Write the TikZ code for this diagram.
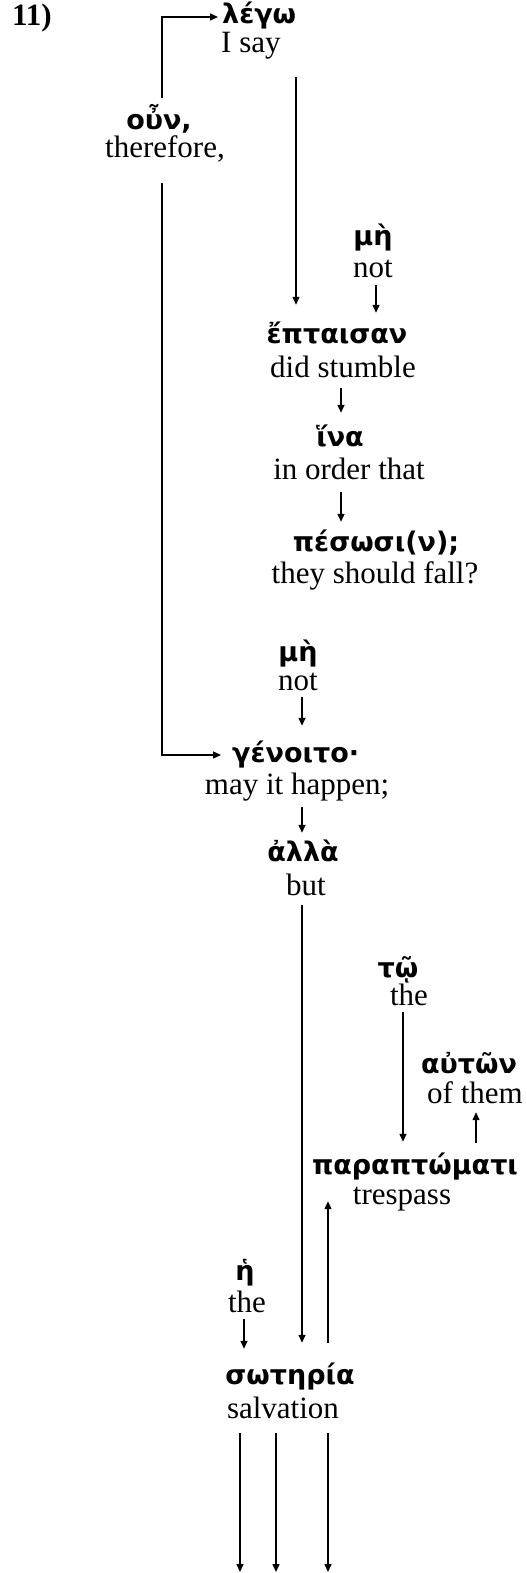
\documentclass[tikz,border=0pt]{standalone}
\usepackage{fontspec}
\setmainfont{Liberation Serif}
\newfontfamily\grk[Script=Greek]{DejaVu Sans}
\usetikzlibrary{arrows.meta}
\begin{document}
\begin{tikzpicture}[x=1pt,y=-1pt,
  gk/.style={inner sep=0pt, anchor=base, font=\grk\bfseries\fontsize{27}{31}\selectfont, text height=20pt, text depth=6pt},
  en/.style={inner sep=0pt, anchor=base, font=\fontsize{31}{36}\selectfont, text height=21pt, text depth=7pt},
  arr/.style={line width=1.4pt, -{Triangle[length=8pt,width=7pt]}}]
\useasboundingbox (0,0) rectangle (527,1573);
% column coordinates
\coordinate (xa) at (162,0);
\coordinate (xb) at (296,0);
\coordinate (xc) at (376,0);
\coordinate (xd) at (341,0);
\coordinate (xe) at (302,0);
\coordinate (xf) at (403,0);
\coordinate (xg) at (476,0);
\coordinate (xh) at (328,0);
\coordinate (xi) at (244,0);
\coordinate (b1) at (240,1572);
\coordinate (b2) at (276,1572);
\coordinate (b3) at (328,1572);
% nodes
\node[inner sep=0pt, anchor=base west, font=\bfseries\fontsize{31}{36}\selectfont] (num) at (12,26) {11)};
\node[gk, anchor=base west] (legw) at (222,24) {λέγω};
\node[en, anchor=base west] (isay) at (221,53) {I say};
\node[gk] (oun) at (159,130) {οὖν,};
\node[en] (therefore) at (165,158) {therefore,};
\node[gk] (mh1) at (373,245) {μὴ};
\node[en] (not1) at (373,277) {not};
\node[gk] (epta) at (337,343) {ἔπταισαν};
\node[en] (stumble) at (343,377) {did stumble};
\node[gk] (ina) at (340,446) {ἵνα};
\node[en] (order) at (349,479) {in order that};
\node[gk] (pes) at (376,551) {πέσωσι(ν);};
\node[en] (fall) at (375,583) {they should fall?};
\node[gk] (mh2) at (298,661) {μὴ};
\node[en] (not2) at (298,690) {not};
\node[gk, anchor=base west] (gen) at (232,762) {γένοιτο·};
\node[en] (happen) at (297,794) {may it happen;};
\node[gk] (alla) at (303,861) {ἀλλὰ};
\node[en] (but) at (306,895) {but};
\node[gk] (tw) at (398,977) {τῷ};
\node[en] (the1) at (409,1005) {the};
\node[gk] (autwn) at (469,1073) {αὐτῶν};
\node[en] (ofthem) at (475,1103) {of them};
\node[gk] (para) at (415,1174) {παραπτώματι};
\node[en] (trespass) at (402,1204) {trespass};
\node[gk] (hh) at (245,1280) {ἡ};
\node[en] (the2) at (247,1312) {the};
\node[gk] (swt) at (290,1384) {σωτηρία};
\node[en] (salv) at (283,1418) {salvation};
% connectors
\draw[arr, shorten <=12pt, shorten >=4pt] (oun.north -| xa) |- (legw.west);
\draw[arr, shorten <=18pt, shorten >=11pt] (therefore.south -| xa) |- (gen.west);
\draw[arr, shorten <=17pt, shorten >=18pt] (isay.south -| xb) -- (epta.north -| xb);
\draw[arr, shorten <=1pt, shorten >=10pt] (not1.south -| xc) -- (epta.north -| xc);
\draw[arr, shorten <=4pt, shorten >=13pt] (stumble.south -| xd) -- (ina.north -| xd);
\draw[arr, shorten <=6pt, shorten >=9pt] (order.south -| xd) -- (pes.north -| xd);
\draw[arr, shorten >=16pt] (not2.south -| xe) -- (gen.north -| xe);
\draw[arr, shorten <=6pt, shorten >=8pt] (happen.south -| xe) -- (alla.north -| xe);
\draw[arr, shorten <=3pt, shorten >=21pt] (but.south -| xe) -- (swt.north -| xe);
\draw[arr, shorten >=12pt] (the1.south -| xf) -- (para.north -| xf);
\draw[arr, shorten <=11pt, shorten >=2pt] (para.north -| xg) -- (ofthem.south -| xg);
\draw[arr, shorten <=21pt, shorten >=21pt] (swt.north -| xh) -- (para.south -| xh);
\draw[arr, shorten >=15pt] (the2.south -| xi) -- (swt.north -| xi);
\draw[arr, shorten <=8pt] (salv.south -| b1) -- (b1);
\draw[arr, shorten <=8pt] (salv.south -| b2) -- (b2);
\draw[arr, shorten <=8pt] (salv.south -| b3) -- (b3);
\end{tikzpicture}
\end{document}
